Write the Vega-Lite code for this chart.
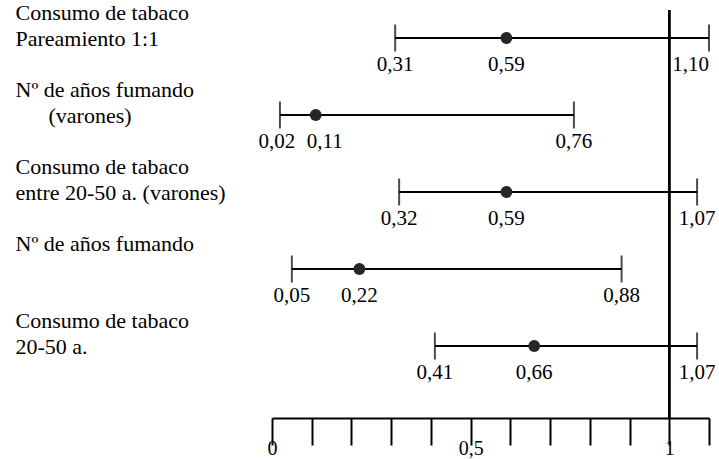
{
  "$schema": "https://vega.github.io/schema/vega-lite/v6.json",
  "autosize": "none",
  "width": 437,
  "height": 408,
  "padding": {"left": 272, "top": 10, "right": 10, "bottom": 41},
  "background": "white",
  "config": {
    "view": {"stroke": null},
    "font": "Liberation Serif, Times New Roman, DejaVu Serif, serif",
    "locale": {"number": {"decimal": ",", "thousands": ".", "grouping": [3], "currency": ["", " €"]}},
    "axisX": {
      "grid": false, "domain": true, "domainColor": "black", "domainWidth": 2,
      "ticks": true, "tickSize": 27, "tickWidth": 2, "tickColor": "black",
      "labelFontSize": 20, "labelColor": "black", "labelFont": "Liberation Serif, Times New Roman, DejaVu Serif, serif",
      "labelBaseline": "top", "labelPadding": -7, "labelOverlap": false, "labelFlush": false
    },
    "axisY": {
      "domain": false, "ticks": false, "tickSize": 0, "grid": false,
      "labelAlign": "left", "labelBaseline": "top", "labelPadding": 257,
      "labelOffset": -36, "labelLimit": 0, "labelOverlap": false,
      "labelFontSize": 22, "labelLineHeight": 26, "labelColor": "black",
      "labelFont": "Liberation Serif, Times New Roman, DejaVu Serif, serif"
    }
  },
  "data": {
    "values": [
      {"label": "Consumo de tabaco|Pareamiento 1:1", "lo": 0.31, "or": 0.59, "hi": 1.10},
      {"label": "Nº de años fumando|\u200b\u00a0\u00a0\u00a0\u00a0\u00a0\u00a0(varones)", "lo": 0.02, "or": 0.11, "hi": 0.76},
      {"label": "Consumo de tabaco|entre 20-50 a. (varones)", "lo": 0.32, "or": 0.59, "hi": 1.07},
      {"label": "Nº de años fumando", "lo": 0.05, "or": 0.22, "hi": 0.88},
      {"label": "Consumo de tabaco|20-50 a.", "lo": 0.41, "or": 0.66, "hi": 1.07}
    ]
  },
  "layer": [
    {
      "mark": {"type": "rule", "strokeWidth": 2, "color": "black"},
      "encoding": {
        "x": {
          "field": "lo", "type": "quantitative", "title": null,
          "scale": {"domain": [0, 1.1], "nice": false, "zero": false},
          "axis": {
            "values": [0, 0.1, 0.2, 0.3, 0.4, 0.5, 0.6, 0.7, 0.8, 0.9, 1, 1.1],
            "labelExpr": "datum.value == 0 ? '0' : datum.value == 0.5 ? '0,5' : datum.value == 1 ? '1' : ''"
          }
        },
        "x2": {"field": "hi"},
        "y": {
          "field": "label", "type": "nominal", "sort": null, "title": null,
          "scale": {"type": "point", "range": [28, 336], "padding": 0},
          "axis": {"labelExpr": "split(datum.label, '|')"}
        }
      }
    },
    {
      "mark": {"type": "tick", "size": 27, "thickness": 2, "color": "black"},
      "encoding": {
        "x": {"field": "lo", "type": "quantitative", "title": null, "axis": {"values": [0, 0.1, 0.2, 0.3, 0.4, 0.5, 0.6, 0.7, 0.8, 0.9, 1, 1.1], "labelExpr": "datum.value == 0 ? '0' : datum.value == 0.5 ? '0,5' : datum.value == 1 ? '1' : ''"}},
        "y": {"field": "label", "type": "nominal", "sort": null, "title": null, "axis": {"labelExpr": "split(datum.label, '|')"}}
      }
    },
    {
      "mark": {"type": "tick", "size": 27, "thickness": 2, "color": "black"},
      "encoding": {
        "x": {"field": "hi", "type": "quantitative", "title": null, "axis": {"values": [0, 0.1, 0.2, 0.3, 0.4, 0.5, 0.6, 0.7, 0.8, 0.9, 1, 1.1], "labelExpr": "datum.value == 0 ? '0' : datum.value == 0.5 ? '0,5' : datum.value == 1 ? '1' : ''"}},
        "y": {"field": "label", "type": "nominal", "sort": null, "title": null, "axis": {"labelExpr": "split(datum.label, '|')"}}
      }
    },
    {
      "mark": {"type": "circle", "size": 140, "color": "#262626", "opacity": 1},
      "encoding": {
        "x": {"field": "or", "type": "quantitative", "title": null, "axis": {"values": [0, 0.1, 0.2, 0.3, 0.4, 0.5, 0.6, 0.7, 0.8, 0.9, 1, 1.1], "labelExpr": "datum.value == 0 ? '0' : datum.value == 0.5 ? '0,5' : datum.value == 1 ? '1' : ''"}},
        "y": {"field": "label", "type": "nominal", "sort": null, "title": null, "axis": {"labelExpr": "split(datum.label, '|')"}}
      }
    },
    {
      "mark": {"type": "rule", "strokeWidth": 2, "color": "black"},
      "encoding": {"x": {"datum": 1, "type": "quantitative", "title": null, "axis": {"values": [0, 0.1, 0.2, 0.3, 0.4, 0.5, 0.6, 0.7, 0.8, 0.9, 1, 1.1], "labelExpr": "datum.value == 0 ? '0' : datum.value == 0.5 ? '0,5' : datum.value == 1 ? '1' : ''"}}}
    },
    {
      "transform": [{"fold": ["lo", "or"], "as": ["k", "v"]}, {"filter": "datum.or - datum.lo >= 0.12"}],
      "mark": {"type": "text", "dy": 27, "fontSize": 21, "color": "black", "align": "center", "baseline": "middle"},
      "encoding": {
        "x": {"field": "v", "type": "quantitative", "title": null, "axis": {"values": [0, 0.1, 0.2, 0.3, 0.4, 0.5, 0.6, 0.7, 0.8, 0.9, 1, 1.1], "labelExpr": "datum.value == 0 ? '0' : datum.value == 0.5 ? '0,5' : datum.value == 1 ? '1' : ''"}},
        "y": {"field": "label", "type": "nominal", "sort": null, "title": null, "axis": {"labelExpr": "split(datum.label, '|')"}},
        "text": {"field": "v", "type": "quantitative", "format": ".2f"}
      }
    },
    {
      "transform": [{"filter": "datum.or - datum.lo < 0.12"}],
      "mark": {"type": "text", "dy": 27, "dx": -3, "fontSize": 21, "color": "black", "align": "center", "baseline": "middle"},
      "encoding": {
        "x": {"field": "lo", "type": "quantitative", "title": null, "axis": {"values": [0, 0.1, 0.2, 0.3, 0.4, 0.5, 0.6, 0.7, 0.8, 0.9, 1, 1.1], "labelExpr": "datum.value == 0 ? '0' : datum.value == 0.5 ? '0,5' : datum.value == 1 ? '1' : ''"}},
        "y": {"field": "label", "type": "nominal", "sort": null, "title": null, "axis": {"labelExpr": "split(datum.label, '|')"}},
        "text": {"field": "lo", "type": "quantitative", "format": ".2f"}
      }
    },
    {
      "transform": [{"filter": "datum.or - datum.lo < 0.12"}],
      "mark": {"type": "text", "dy": 27, "dx": 9, "fontSize": 21, "color": "black", "align": "center", "baseline": "middle"},
      "encoding": {
        "x": {"field": "or", "type": "quantitative", "title": null, "axis": {"values": [0, 0.1, 0.2, 0.3, 0.4, 0.5, 0.6, 0.7, 0.8, 0.9, 1, 1.1], "labelExpr": "datum.value == 0 ? '0' : datum.value == 0.5 ? '0,5' : datum.value == 1 ? '1' : ''"}},
        "y": {"field": "label", "type": "nominal", "sort": null, "title": null, "axis": {"labelExpr": "split(datum.label, '|')"}},
        "text": {"field": "or", "type": "quantitative", "format": ".2f"}
      }
    },
    {
      "transform": [{"filter": "datum.hi < 1.08"}],
      "mark": {"type": "text", "dy": 27, "fontSize": 21, "color": "black", "align": "center", "baseline": "middle"},
      "encoding": {
        "x": {"field": "hi", "type": "quantitative", "title": null, "axis": {"values": [0, 0.1, 0.2, 0.3, 0.4, 0.5, 0.6, 0.7, 0.8, 0.9, 1, 1.1], "labelExpr": "datum.value == 0 ? '0' : datum.value == 0.5 ? '0,5' : datum.value == 1 ? '1' : ''"}},
        "y": {"field": "label", "type": "nominal", "sort": null, "title": null, "axis": {"labelExpr": "split(datum.label, '|')"}},
        "text": {"field": "hi", "type": "quantitative", "format": ".2f"}
      }
    },
    {
      "transform": [{"filter": "datum.hi >= 1.08"}],
      "mark": {"type": "text", "dy": 27, "fontSize": 21, "color": "black", "align": "right", "baseline": "middle"},
      "encoding": {
        "x": {"field": "hi", "type": "quantitative", "title": null, "axis": {"values": [0, 0.1, 0.2, 0.3, 0.4, 0.5, 0.6, 0.7, 0.8, 0.9, 1, 1.1], "labelExpr": "datum.value == 0 ? '0' : datum.value == 0.5 ? '0,5' : datum.value == 1 ? '1' : ''"}},
        "y": {"field": "label", "type": "nominal", "sort": null, "title": null, "axis": {"labelExpr": "split(datum.label, '|')"}},
        "text": {"field": "hi", "type": "quantitative", "format": ".2f"}
      }
    }
  ]
}
